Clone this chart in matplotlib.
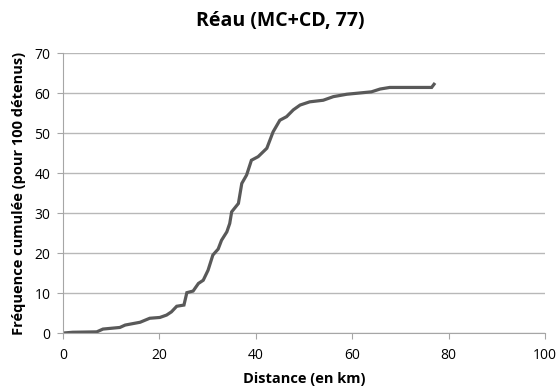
import matplotlib
matplotlib.use('Agg')
from matplotlib import pyplot as plt

# cumulative frequency (per 100 detainees) vs distance
distance = [0, 2, 7.0, 8.3, 11.8, 12.9, 16.0, 18.0, 20.1, 21.5, 22.5, 23.6, 25.1,
            25.7, 27.0, 28.1, 29.1, 30.1, 31.1, 32.2, 32.9, 34.0, 34.6, 35.0,
            36.4, 37.1, 38.1, 39.1, 40.5, 42.3, 43.6, 45.0, 46.4, 47.8, 49.2,
            51.2, 54.0, 56.1, 58.9, 64.0, 65.8, 67.8, 76.5, 77.0]
freq = [0, 0.2, 0.3, 1.0, 1.4, 2.0, 2.7, 3.7, 3.9, 4.5, 5.3, 6.7, 7.0,
        10.1, 10.5, 12.4, 13.2, 15.7, 19.5, 21.0, 23.2, 25.3, 27.4, 30.3,
        32.4, 37.4, 39.5, 43.2, 44.1, 46.2, 50.3, 53.2, 54.1, 55.8, 57.0,
        57.8, 58.2, 59.1, 59.7, 60.3, 61.0, 61.4, 61.4, 62.2]

x_ticks = [0, 20, 40, 60, 80, 100]
y_ticks = [0, 10, 20, 30, 40, 50, 60, 70]

plt.rcParams['font.family'] = ['Open Sans', 'DejaVu Sans']

fig = plt.figure(figsize=(5.6, 3.9), dpi=100)
ax = fig.add_axes([0.1125, 0.146, 0.8605, 0.718])

ax.plot(distance, freq, c='#595959', lw=2.3, solid_joinstyle='miter')

ax.set_xlim(0, 100)
ax.set_ylim(0, 70)
ax.set_xticks(x_ticks)
ax.set_yticks(y_ticks)
ax.yaxis.grid(True, color='#b8b8b8', lw=1.0)
ax.set_axisbelow(True)

for side in ['top', 'right']:
    ax.spines[side].set_visible(False)
for side in ['left', 'bottom']:
    ax.spines[side].set_color('#a6a6a6')
ax.tick_params(axis='both', colors='#a6a6a6', labelcolor='black',
               labelsize=10, length=4, direction='out')
ax.tick_params(axis='x', pad=7)
ax.tick_params(axis='y', pad=5)

fig.text(0.5, 0.945, 'Réau (MC+CD, 77)', ha='center', va='center',
         fontsize=14, fontweight='bold')
ax.set_xlabel('Distance (en km)', fontsize=10.5, fontweight='bold', labelpad=6)
ax.set_ylabel('Fréquence cumulée (pour 100 détenus)', fontsize=10.5,
              fontweight='bold', labelpad=6)

fig.savefig('out.png', dpi=100)
